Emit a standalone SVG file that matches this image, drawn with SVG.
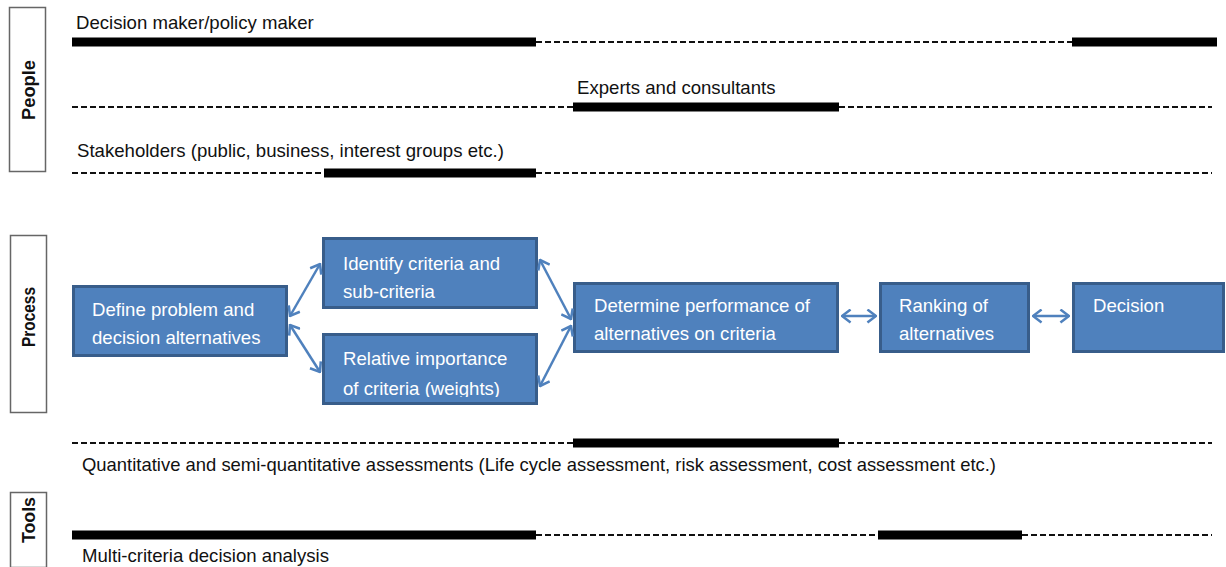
<svg xmlns="http://www.w3.org/2000/svg" width="1226" height="567" viewBox="0 0 1226 567">
<defs>
<style>
.lbl{font-family:"Liberation Sans",Arial,sans-serif;font-size:18.6px;fill:#111}
.btx{font-family:"Liberation Sans",Arial,sans-serif;font-size:18.6px;fill:#fff}
.side{font-family:"Liberation Sans",Arial,sans-serif;font-size:19px;font-weight:bold;fill:#111}
.sbox{fill:#fff;stroke:#666;stroke-width:1.5}
.box{fill:#4F81BD;stroke:#385D8A;stroke-width:3}
.thick{stroke:#000;stroke-width:9;fill:none}
.dash{stroke:#111;stroke-width:2;stroke-dasharray:6 3;fill:none}
.arr{stroke:#4F81BD;stroke-width:2.5;fill:none;marker-start:url(#ah);marker-end:url(#ah)}
</style>
<marker id="ah" viewBox="0 0 10 14" refX="9" refY="7" markerWidth="11" markerHeight="15" markerUnits="userSpaceOnUse" orient="auto-start-reverse">
<path d="M1,1 L9,7 L1,13" fill="none" stroke="#4F81BD" stroke-width="2.4"/>
</marker>
<clipPath id="clipRel"><rect x="323" y="334" width="214" height="63"/></clipPath>
</defs>
<rect width="1226" height="567" fill="#fff"/>

<g id="side-people"><rect class="sbox" x="9.5" y="7.5" width="36" height="164"/><text class="side" transform="translate(35,90) rotate(-90)" text-anchor="middle" textLength="60" lengthAdjust="spacingAndGlyphs">People</text></g>
<g id="side-process"><rect class="sbox" x="10.5" y="235.5" width="36" height="177"/><text class="side" transform="translate(35,317) rotate(-90)" text-anchor="middle" textLength="60" lengthAdjust="spacingAndGlyphs">Process</text></g>
<g id="side-tools"><rect class="sbox" x="10.5" y="492.5" width="36" height="75"/><text class="side" transform="translate(35,520) rotate(-90)" text-anchor="middle" textLength="46" lengthAdjust="spacingAndGlyphs">Tools</text></g>

<g id="people-lines">
<text class="lbl" x="76" y="29">Decision maker/policy maker</text>
<line class="thick" x1="72" y1="42" x2="536" y2="42"/>
<line class="dash" x1="536" y1="42" x2="1072" y2="42"/>
<line class="thick" x1="1072" y1="42" x2="1217" y2="42"/>
<text class="lbl" x="577" y="94">Experts and consultants</text>
<line class="dash" x1="72" y1="107" x2="573" y2="107"/>
<line class="thick" x1="573" y1="107" x2="839" y2="107"/>
<line class="dash" x1="839" y1="107" x2="1212" y2="107"/>
<text class="lbl" x="77" y="157">Stakeholders (public, business, interest groups etc.)</text>
<line class="dash" x1="72" y1="173" x2="324" y2="173"/>
<line class="thick" x1="324" y1="173" x2="536" y2="173"/>
<line class="dash" x1="536" y1="173" x2="1212" y2="173"/>
</g>

<g id="node-define"><rect class="box" x="73.5" y="286.5" width="213" height="69"/><text class="btx" x="92" y="316">Define problem and</text><text class="btx" x="92" y="344">decision alternatives</text></g>
<g id="node-identify"><rect class="box" x="323.5" y="238.5" width="213" height="69"/><text class="btx" x="343" y="270">Identify criteria and</text><text class="btx" x="343" y="298">sub-criteria</text></g>
<g id="node-relative"><rect x="323.5" y="334.5" width="213" height="69" fill="#4F81BD"/><g clip-path="url(#clipRel)"><text class="btx" x="343" y="365">Relative importance</text><text class="btx" x="343" y="395">of criteria (weights)</text></g><rect x="323.5" y="334.5" width="213" height="69" fill="none" stroke="#385D8A" stroke-width="3"/></g>
<g id="node-determine"><rect class="box" x="574.5" y="283.5" width="263" height="68"/><text class="btx" x="594" y="312">Determine performance of</text><text class="btx" x="594" y="340">alternatives on criteria</text></g>
<g id="node-ranking"><rect class="box" x="880.5" y="283.5" width="148" height="68"/><text class="btx" x="899" y="312">Ranking of</text><text class="btx" x="899" y="340">alternatives</text></g>
<g id="node-decision"><rect class="box" x="1073.5" y="283.5" width="150" height="68"/><text class="btx" x="1093" y="312">Decision</text></g>

<g id="connectors">
<line class="arr" x1="290" y1="316" x2="320" y2="264"/>
<line class="arr" x1="290" y1="325" x2="320" y2="372"/>
<line class="arr" x1="540" y1="260" x2="571" y2="319"/>
<line class="arr" x1="571" y1="326" x2="540" y2="386"/>
<line class="arr" x1="842" y1="316" x2="876" y2="316"/>
<line class="arr" x1="1033" y1="316" x2="1069" y2="316"/>
</g>

<g id="tools-lines">
<line class="dash" x1="72" y1="443" x2="573" y2="443"/>
<line class="thick" x1="573" y1="443" x2="839" y2="443"/>
<line class="dash" x1="839" y1="443" x2="1212" y2="443"/>
<text class="lbl" x="82" y="471" textLength="914" lengthAdjust="spacingAndGlyphs">Quantitative and semi-quantitative assessments (Life cycle assessment, risk assessment, cost assessment etc.)</text>
<line class="thick" x1="72" y1="535" x2="536" y2="535"/>
<line class="dash" x1="536" y1="535" x2="878" y2="535"/>
<line class="thick" x1="878" y1="535" x2="1022" y2="535"/>
<line class="dash" x1="1022" y1="535" x2="1212" y2="535"/>
<text class="lbl" x="82" y="562">Multi-criteria decision analysis</text>
</g>
</svg>
